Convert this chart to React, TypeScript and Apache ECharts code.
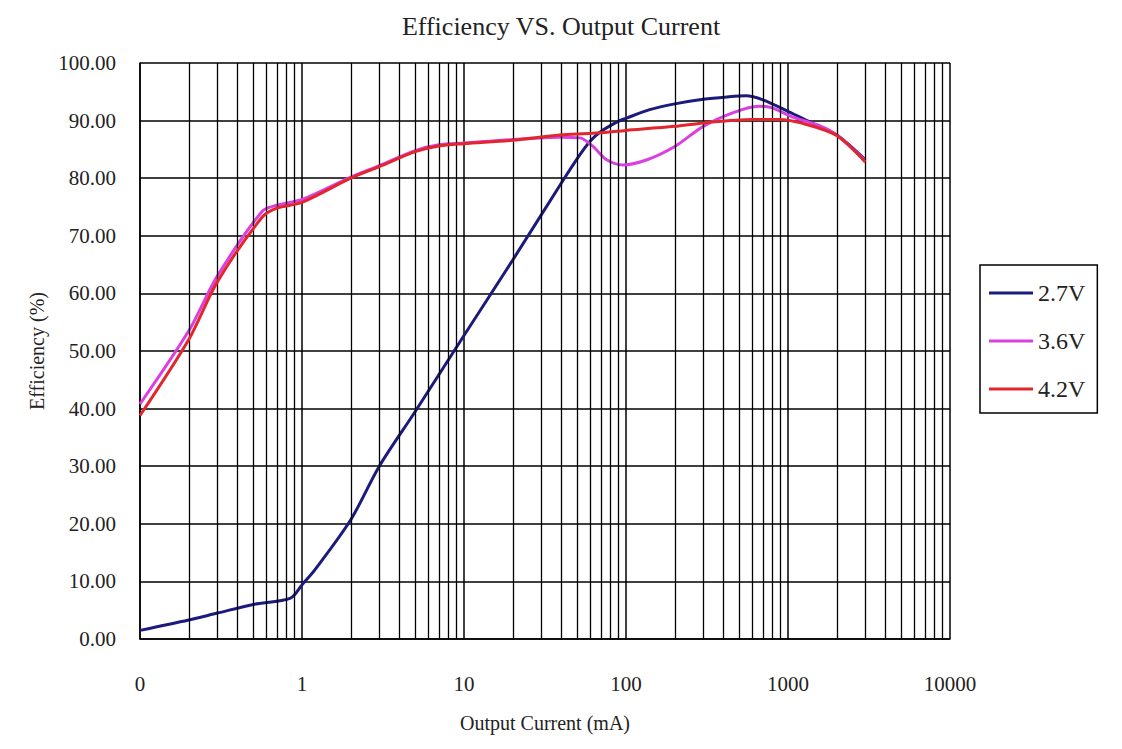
import React, { useEffect, useRef } from "react";
import * as echarts from "echarts";

// Output current (mA) and efficiency (%) per input voltage
const current27 = [0.1, 0.2, 0.3, 0.5, 0.85, 1, 1.2, 2, 3, 5, 10, 20, 40, 50, 60, 70, 90, 100, 140, 200, 300, 420, 550, 700, 1000, 1400, 2000, 3000];
const eff27 = [1.5, 3.3, 4.5, 6, 7.1, 9.4, 12, 20.7, 30, 39.5, 52.7, 65.8, 79.2, 83.4, 86.4, 88.1, 89.9, 90.4, 91.9, 92.9, 93.7, 94.1, 94.3, 93.6, 91.6, 89.6, 87.5, 83.2];

const current36 = [0.1, 0.2, 0.3, 0.57, 0.7, 1, 2, 3, 5, 7, 10, 20, 39, 52, 62, 76, 96, 135, 200, 300, 460, 660, 800, 1050, 1600, 2000, 3000];
const eff36 = [40.8, 53.5, 63, 74.3, 75.3, 76.3, 80.2, 82.2, 84.8, 85.8, 86.1, 86.7, 87.1, 87, 85.6, 83.2, 82.3, 83.2, 85.5, 89, 91.4, 92.5, 92.2, 90.7, 89, 87.5, 83];

const current42 = [0.1, 0.2, 0.3, 0.57, 0.7, 1, 2, 3, 5, 7, 10, 20, 39, 62, 100, 200, 300, 600, 880, 1200, 2000, 3000];
const eff42 = [38.8, 52, 62, 73.3, 74.8, 75.8, 80, 82, 84.6, 85.6, 86, 86.6, 87.5, 87.8, 88.3, 89, 89.6, 90.2, 90.2, 89.6, 87.4, 82.8];

const seriesNames = ["2.7V", "3.6V", "4.2V"];
const seriesColors = ["#1c1a7c", "#dc3fe0", "#e2262e"];

// Minor (intra-decade) grid positions on the log axis
const minorGridX = [
  0.2, 0.3, 0.4, 0.5, 0.6, 0.7, 0.8, 0.9,
  2, 3, 4, 5, 6, 7, 8, 9,
  20, 30, 40, 50, 60, 70, 80, 90,
  200, 300, 400, 500, 600, 700, 800, 900,
  2000, 3000, 4000, 5000, 6000, 7000, 8000, 9000,
];

const FONT = "'Liberation Serif', 'DejaVu Serif', serif";

function zip(xs: number[], ys: number[]) {
  return xs.map((x, i) => [x, ys[i]]);
}

export default function App() {
  const ref = useRef<HTMLDivElement>(null);

  useEffect(() => {
    if (!ref.current) return;
    const chart = echarts.init(ref.current, null, { renderer: "svg" });
    const datasets = [zip(current27, eff27), zip(current36, eff36), zip(current42, eff42)];

    chart.setOption({
      animation: false,
      backgroundColor: "#ffffff",
      title: {
        text: "Efficiency VS. Output Current",
        left: "center",
        top: 8,
        textStyle: { fontFamily: FONT, fontSize: 26, fontWeight: "normal", color: "#222" },
      },
      grid: { left: 140, right: 172, top: 63, bottom: 110, containLabel: false },
      legend: {
        orient: "vertical",
        left: 980,
        top: 265,
        data: seriesNames.map((n) => ({ name: n, icon: "rect" })),
        itemWidth: 44,
        itemHeight: 3,
        itemGap: 24,
        padding: [16, 12, 12, 9],
        borderColor: "#000",
        borderWidth: 1.5,
        textStyle: { fontFamily: FONT, fontSize: 24, color: "#222", lineHeight: 24, padding: [0, 0, 0, 0] },
      },
      xAxis: {
        type: "log",
        logBase: 10,
        min: 0.1,
        max: 10000,
        name: "Output Current (mA)",
        nameLocation: "middle",
        nameGap: 74,
        nameTextStyle: { fontFamily: FONT, fontSize: 20, color: "#222" },
        axisLine: { show: true, lineStyle: { color: "#000", width: 1.5 } },
        axisTick: { show: false },
        axisLabel: {
          margin: 34,
          fontFamily: FONT,
          fontSize: 21,
          color: "#222",
          formatter: (v: number) => (Math.abs(v - 0.1) < 1e-9 ? "0" : String(Math.round(v))),
        },
        splitLine: { show: true, lineStyle: { color: "#000", width: 1.5 } },
      },
      yAxis: {
        type: "value",
        min: 0,
        max: 100,
        interval: 10,
        name: "Efficiency (%)",
        nameLocation: "middle",
        nameGap: 90,
        nameTextStyle: { fontFamily: FONT, fontSize: 20, color: "#222" },
        axisLine: { show: true, lineStyle: { color: "#000", width: 1.5 } },
        axisTick: { show: false },
        axisLabel: {
          margin: 24,
          fontFamily: FONT,
          fontSize: 21,
          color: "#222",
          formatter: (v: number) => v.toFixed(2),
        },
        splitLine: { show: true, lineStyle: { color: "#000", width: 1.5 } },
      },
      series: [
        {
          type: "line",
          name: "minor-grid",
          data: [],
          z: 1,
          silent: true,
          markLine: {
            silent: true,
            symbol: ["none", "none"],
            label: { show: false },
            lineStyle: { color: "#000", width: 1.3, type: "solid" },
            emphasis: { disabled: true },
            data: minorGridX.map((x) => ({ xAxis: x })),
          },
        },
        ...seriesNames.map((name, i) => ({
          type: "line",
          name,
          data: datasets[i],
          z: 3 + i,
          smooth: 0.3,
          showSymbol: false,
          symbol: "none",
          lineStyle: { color: seriesColors[i], width: 3 },
          itemStyle: { color: seriesColors[i] },
        })),
      ],
    });

    return () => chart.dispose();
  }, []);

  return (
    <div
      ref={ref}
      style={{ position: "fixed", left: 0, top: 0, width: 1122, height: 749, background: "#fff" }}
    />
  );
}
